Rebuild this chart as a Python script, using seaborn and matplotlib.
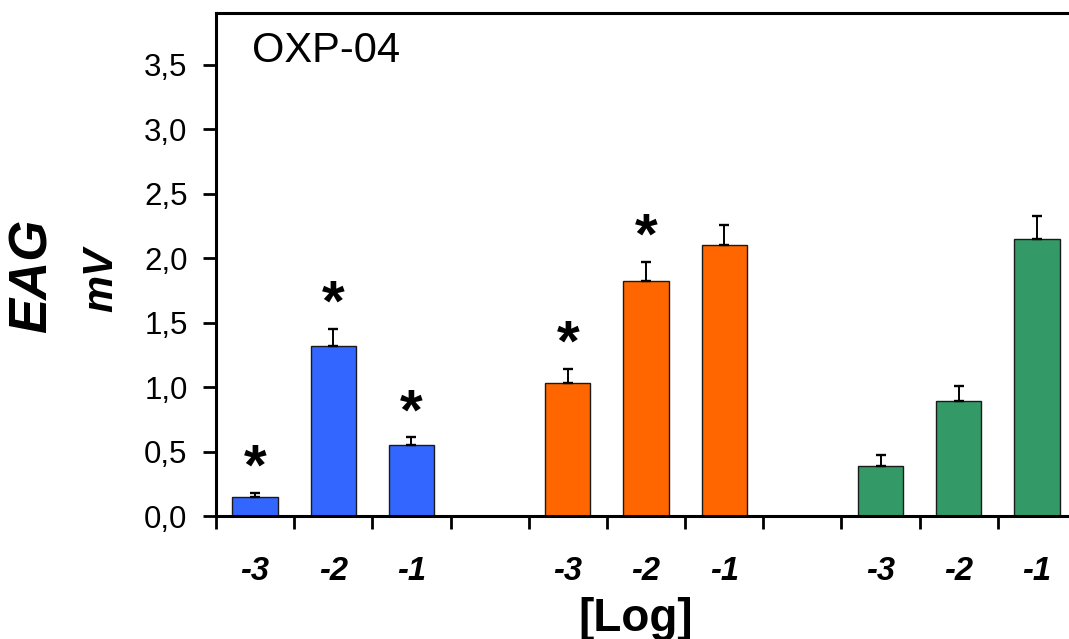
import numpy as np
import pandas as pd
import matplotlib
matplotlib.use("Agg")
import matplotlib.pyplot as plt
from matplotlib.ticker import FixedLocator
import seaborn as sns

# ---- data ----
slots = ["b-3", "b-2", "b-1", "gap1", "o-3", "o-2", "o-1", "gap2", "g-3", "g-2", "g-1"]
bar_slots = ["b-3", "b-2", "b-1", "o-3", "o-2", "o-1", "g-3", "g-2", "g-1"]
groups = ["blue", "blue", "blue", "orange", "orange", "orange", "green", "green", "green"]
means = [0.15, 1.32, 0.55, 1.03, 1.82, 2.10, 0.39, 0.89, 2.15]
errors = [0.03, 0.13, 0.06, 0.11, 0.15, 0.16, 0.08, 0.12, 0.18]
significant = [True, True, True, True, True, False, False, False, False]
xtick_labels = ["-3", "-2", "-1", "", "-3", "-2", "-1", "", "-3", "-2", "-1"]
yticks = [0.0, 0.5, 1.0, 1.5, 2.0, 2.5, 3.0, 3.5]
ytick_labels = ["0,0", "0,5", "1,0", "1,5", "2,0", "2,5", "3,0", "3,5"]
palette = {"blue": "#3366FF", "orange": "#FF6600", "green": "#339966"}
title_text = "OXP-04"

df = pd.DataFrame({"slot": bar_slots, "value": means, "group": groups})

sns.set_theme(style="white")
plt.rcParams["font.family"] = ["Liberation Sans", "DejaVu Sans"]
plt.rcParams["text.color"] = "black"
plt.rcParams["xtick.color"] = "black"
plt.rcParams["ytick.color"] = "black"
plt.rcParams["axes.labelcolor"] = "black"

W, H = 1069, 639
fig = plt.figure(figsize=(W / 100, H / 100), dpi=100)
ax = fig.add_axes([216 / W, 1 - 516 / H, 860 / W, (516 - 13.3) / H])

sns.barplot(data=df, x="slot", y="value", hue="group", order=slots,
            hue_order=["blue", "orange", "green"], palette=palette,
            dodge=False, width=0.58, edgecolor="#1a1a1a", linewidth=1.0,
            errorbar=None, legend=False, saturation=1, ax=ax)

pos = np.array([slots.index(s) for s in bar_slots])
ax.errorbar(pos, means, yerr=[np.zeros(len(means)), errors], fmt="none",
            ecolor="black", elinewidth=1.4, capsize=3.6, capthick=1.7, zorder=1)

for p, m, e, sig in zip(pos, means, errors, significant):
    if sig:
        ax.text(p, m + e - 0.03, "*", ha="center", va="bottom",
                fontsize=42, fontweight="bold", color="black")

ax.set_ylim(0, 3.9)
ax.set_xlim(-0.5, len(slots) - 0.5)
ax.set_yticks(yticks)
ax.set_yticklabels(ytick_labels, fontsize=22.5, color="black")
ax.set_xticks(np.arange(len(slots)))
ax.set_xticklabels(xtick_labels, fontsize=23.5, fontweight="bold", style="italic", color="black")
ax.xaxis.set_minor_locator(FixedLocator(np.arange(len(slots) + 1) - 0.5))
ax.tick_params(axis="x", which="major", length=0, pad=29)
ax.tick_params(axis="x", which="minor", length=9, width=2, color="black", direction="out", bottom=True)
ax.tick_params(axis="y", which="major", length=9.5, width=2, color="black", direction="out", left=True, pad=11)
ax.set_xlabel("")
ax.set_ylabel("")

for side in ["left", "bottom", "top"]:
    ax.spines[side].set_visible(True)
    ax.spines[side].set_color("black")
    ax.spines[side].set_linewidth(2.2)
ax.spines["right"].set_visible(False)

fig.text(252 / W, 1 - 62 / H, title_text, fontsize=30, ha="left", va="baseline", color="black")
fig.text(33 / W, 1 - 276 / H, "EAG", fontsize=38, fontweight="bold", style="italic",
         rotation=90, ha="center", va="center", color="black")
fig.text(101 / W, 1 - 280 / H, "mV", fontsize=30, fontweight="bold", style="italic",
         rotation=90, ha="center", va="center", color="black")
fig.text(636 / W, 1 - 597 / H, "[Log]", fontsize=33, fontweight="bold", ha="center", va="top",
         color="black")

fig.savefig("out.png", dpi=100)
